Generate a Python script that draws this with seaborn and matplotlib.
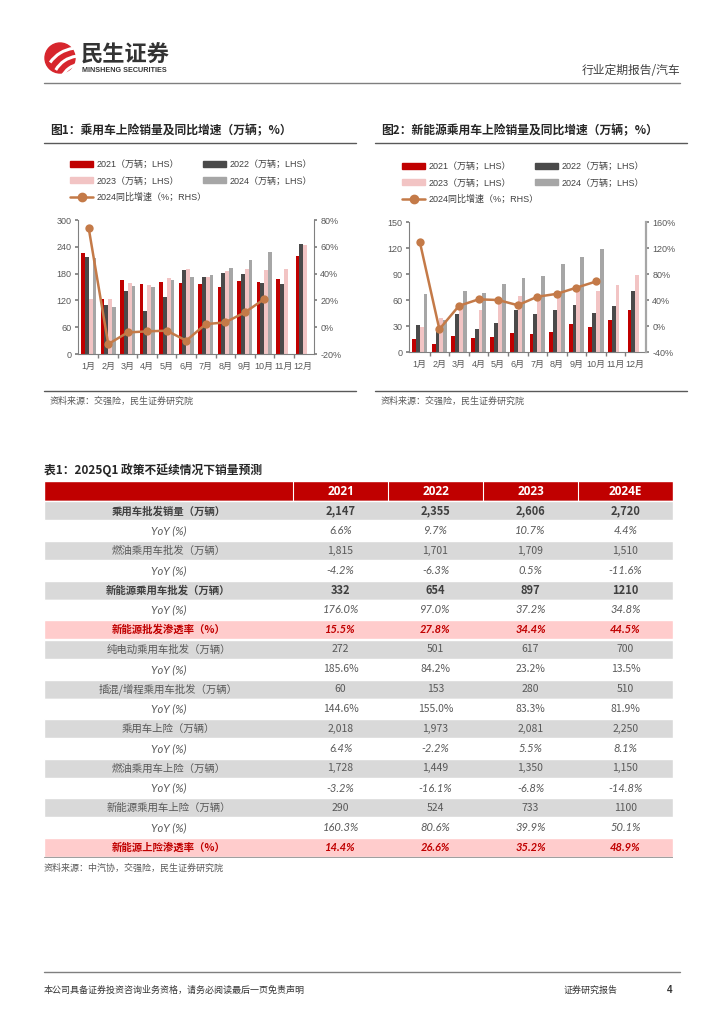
import numpy as np
import pandas as pd
import matplotlib
matplotlib.use('Agg')
import matplotlib.pyplot as plt
import seaborn as sns
from matplotlib.patches import Circle, Arc, Patch
from matplotlib.lines import Line2D
from matplotlib.ticker import FuncFormatter

sns.set_theme(style='white')
plt.rcParams['font.family'] = ['Liberation Sans', 'Noto Sans CJK SC', 'DejaVu Sans']
plt.rcParams['axes.unicode_minus'] = False

# ---------------- data ----------------
months = ['1月', '2月', '3月', '4月', '5月', '6月', '7月', '8月', '9月', '10月', '11月', '12月']
years = ['2021', '2022', '2023', '2024']

ins_2021 = [227, 124, 166, 156, 162, 160, 156, 151, 164, 162, 169, 219]
ins_2022 = [218, 110, 141, 96, 127, 187, 172, 181, 179, 159, 156, 246]
ins_2023 = [124, 123, 159, 155, 171, 191, 173, 186, 191, 188, 191, 245]
ins_2024 = [214, 106, 153, 150, 166, 172, 176, 193, 211, 229]
ins_yoy_2024 = [73.8, -12.6, -3.9, -3.1, -2.6, -10.0, 2.3, 3.6, 11.0, 21.0]

nev_2021 = [14.7, 9.6, 18.5, 16.6, 17.4, 22, 21, 22.8, 32.8, 29, 37, 48]
nev_2022 = [31, 24, 44, 26, 33, 49, 44, 48, 54, 44.7, 53, 70.6]
nev_2023 = [28.5, 39, 53, 48.6, 56, 65, 61, 67, 70, 70.6, 77.5, 88.7]
nev_2024 = [66.7, 37, 70, 68, 78, 85.6, 88, 101, 110, 119]
nev_yoy_2024 = [129.7, -5, 31, 41, 40, 32, 45, 49.5, 59, 68.5]

legend_labels = ['2021（万辆；LHS）', '2022（万辆；LHS）', '2023（万辆；LHS）',
                 '2024（万辆；LHS）', '2024同比增速（%；RHS）']

tbl_cols = ['2021', '2022', '2023', '2024E']
row_labels = ['乘用车批发销量（万辆）', 'YoY (%)', '燃油乘用车批发（万辆）', 'YoY (%)',
              '新能源乘用车批发（万辆）', 'YoY (%)', '新能源批发渗透率（%）',
              '纯电动乘用车批发（万辆）', 'YoY (%)', '插混/增程乘用车批发（万辆）', 'YoY (%)',
              '乘用车上险（万辆）', 'YoY (%)', '燃油乘用车上险（万辆）', 'YoY (%)',
              '新能源乘用车上险（万辆）', 'YoY (%)', '新能源上险渗透率（%）']
col_2021 = ['2,147', '6.6%', '1,815', '-4.2%', '332', '176.0%', '15.5%', '272', '185.6%',
            '60', '144.6%', '2,018', '6.4%', '1,728', '-3.2%', '290', '160.3%', '14.4%']
col_2022 = ['2,355', '9.7%', '1,701', '-6.3%', '654', '97.0%', '27.8%', '501', '84.2%',
            '153', '155.0%', '1,973', '-2.2%', '1,449', '-16.1%', '524', '80.6%', '26.6%']
col_2023 = ['2,606', '10.7%', '1,709', '0.5%', '897', '37.2%', '34.4%', '617', '23.2%',
            '280', '83.3%', '2,081', '5.5%', '1,350', '-6.8%', '733', '39.9%', '35.2%']
col_2024E = ['2,720', '4.4%', '1,510', '-11.6%', '1210', '34.8%', '44.5%', '700', '13.5%',
             '510', '81.9%', '2,250', '8.1%', '1,150', '-14.8%', '1100', '50.1%', '48.9%']
row_kind = ['bold', 'yoy', 'plain', 'yoy', 'bold', 'yoy', 'pen', 'plain', 'yoyu', 'plain',
            'yoyu', 'plain', 'yoy', 'plain', 'yoy', 'plain', 'yoy', 'pen']

# ---------------- styles ----------------
BAR_COLORS = ['#c00000', '#4a4a4a', '#f2c4c4', '#a6a6a6']
LINE_COLOR = '#c47a48'
TXT = '#404040'
CJK = ['Noto Sans CJK SC', 'DejaVu Sans']

W, H = 724, 1024
fig = plt.figure(figsize=(7.24, 10.24), dpi=100)


def rect(x0, y0, x1, y1):
    return [x0 / W, 1 - y1 / H, (x1 - x0) / W, (y1 - y0) / H]


ov = fig.add_axes([0, 0, 1, 1])
ov.set_xlim(0, W)
ov.set_ylim(H, 0)
ov.axis('off')

# header / logo
ov.add_patch(Circle((60, 58), 15, color='#d7262d'))
for (cx, cy, r, t1, t2) in [(78, 82, 34, 215, 262), (80, 84, 28, 210, 262), (82, 86, 22, 205, 262)]:
    ov.add_patch(Arc((cx, cy), 2 * r, 2 * r, theta1=t1, theta2=t2, color='white', lw=2.2))
ov.text(81, 55, '民生证券', fontsize=16, fontweight='bold', color='#333333', family=CJK,
        va='center', ha='left')
ov.text(82, 71, 'MINSHENG SECURITIES', fontsize=5.2, fontweight='bold', color='#333333',
        va='center', ha='left')
ov.text(680, 70, '行业定期报告/汽车', fontsize=8.5, color=TXT, family=CJK, va='center', ha='right')
ov.plot([44, 680], [83, 83], color='#7f7f7f', lw=1)

# figure titles & lines
ov.text(50, 131, '图1：乘用车上险销量及同比增速（万辆；%）', fontsize=8.5, fontweight='bold',
        color='#262626', family=CJK, va='center')
ov.text(381, 131, '图2：新能源乘用车上险销量及同比增速（万辆；%）', fontsize=8.5, fontweight='bold',
        color='#262626', family=CJK, va='center')
for xa, xb in [(44, 356), (375, 687)]:
    ov.plot([xa, xb], [143, 143], color='#595959', lw=1)
    ov.plot([xa, xb], [391, 391], color='#595959', lw=1)
ov.text(50, 401, '资料来源：交强险，民生证券研究院', fontsize=6.5, color='#595959', family=CJK, va='center')
ov.text(381, 401, '资料来源：交强险，民生证券研究院', fontsize=6.5, color='#595959', family=CJK, va='center')

# footer
ov.plot([44, 680], [972, 972], color='#7f7f7f', lw=1)
ov.text(44, 990, '本公司具备证券投资咨询业务资格，请务必阅读最后一页免责声明', fontsize=6.5,
        color='#333333', family=CJK, va='center')
ov.text(564, 990, '证券研究报告', fontsize=6.5, color='#333333', family=CJK, va='center')
ov.text(670, 990, '4', fontsize=7, fontweight='bold', color='#333333', va='center', ha='center')


def bar_chart(box, series, yoy, ylim, yticks, y2lim, y2ticks, leg1_xy, leg2_xy, rspine):
    ax = fig.add_axes(rect(*box))
    ax.set_facecolor('none')
    recs = []
    for yr, vals in zip(years, series):
        for m, v in zip(months, vals):
            recs.append({'month': m, 'year': yr, 'value': v})
    df = pd.DataFrame(recs)
    sns.barplot(data=df, x='month', y='value', hue='year', order=months, hue_order=years,
                palette=BAR_COLORS, width=0.78, saturation=1, errorbar=None, legend=False,
                linewidth=0, edgecolor='none', ax=ax)
    ax.set_ylim(*ylim)
    ax.set_yticks(yticks)
    ax.set_xlabel('')
    ax.set_ylabel('')
    ax.set_xticks(np.arange(12))
    ax.set_xticklabels(months)
    ax.set_xticks(np.arange(0.5, 11.5, 1), minor=True)
    ax.tick_params(axis='x', which='major', length=0, pad=6, labelsize=6.5, labelcolor='#595959')
    ax.tick_params(axis='x', which='minor', length=3, color='#808080', direction='out', bottom=True)
    ax.tick_params(axis='y', length=2.5, color='#808080', direction='out', left=True, pad=2,
                   labelsize=6.5, labelcolor='#595959')
    for s in ['top', 'right']:
        ax.spines[s].set_visible(False)
    for s in ['left', 'bottom']:
        ax.spines[s].set_color('#808080')
        ax.spines[s].set_linewidth(0.8)
    ax.grid(False)

    ax2 = ax.twinx()
    ax2.set_facecolor('none')
    sns.lineplot(x=np.arange(len(yoy)), y=yoy, ax=ax2, color=LINE_COLOR, marker='o',
                 markersize=6, markeredgewidth=0, linewidth=1.8)
    ax2.set_ylim(*y2lim)
    ax2.set_yticks(y2ticks)
    ax2.yaxis.set_major_formatter(FuncFormatter(lambda v, p: f'{v:.0f}%'))
    ax2.tick_params(axis='y', length=2.5, color='#808080', direction='out', right=True, pad=2,
                    labelsize=6.5, labelcolor='#595959')
    for s in ['top', 'left', 'bottom']:
        ax2.spines[s].set_visible(False)
    ax2.spines['right'].set_color(rspine[0])
    ax2.spines['right'].set_linewidth(rspine[1])
    ax2.set_ylabel('')
    ax2.grid(False)
    ax.set_xlim(-0.55, 11.55)

    bars = [Patch(color=c) for c in BAR_COLORS]
    hl = Line2D([], [], color=LINE_COLOR, marker='o', markersize=6, lw=1.8)
    common = dict(loc='upper left', bbox_transform=fig.transFigure, frameon=False, fontsize=6.5,
                  handlelength=2.6, handleheight=0.55, labelspacing=0.82, handletextpad=0.35,
                  borderpad=0, borderaxespad=0, labelcolor=TXT)
    l1 = ax.legend([bars[0], bars[2], hl], [legend_labels[0], legend_labels[2], legend_labels[4]],
                   bbox_to_anchor=(leg1_xy[0] / W, 1 - leg1_xy[1] / H), **common)
    ax.add_artist(l1)
    ax.legend([bars[1], bars[3]], [legend_labels[1], legend_labels[3]],
              bbox_to_anchor=(leg2_xy[0] / W, 1 - leg2_xy[1] / H), **common)


bar_chart((78, 220, 314, 354), [ins_2021, ins_2022, ins_2023, ins_2024], ins_yoy_2024,
          (0, 300), range(0, 301, 60), (-20, 80), range(-20, 81, 20),
          (70, 160), (203, 160), ('#808080', 0.8))
bar_chart((409, 222, 646, 352), [nev_2021, nev_2022, nev_2023, nev_2024], nev_yoy_2024,
          (0, 150), range(0, 151, 30), (-40, 160), range(-40, 161, 40),
          (402, 162), (535, 162), ('#a6a6a6', 1.6))

# ---------------- table ----------------
ov.text(44, 470, '表1：2025Q1 政策不延续情况下销量预测', fontsize=8.5, fontweight='bold',
        color='#262626', family=CJK, va='center')
X0, X1 = 44, 673
col_edges = [44, 293, 388, 483, 578, 673]
HDR0, HDR1 = 481, 501
RH = 19.8
tax = fig.add_axes(rect(X0, HDR0, X1, HDR1 + RH * len(row_labels) + 1))
tax.set_xlim(X0, X1)
tax.set_ylim(HDR1 + RH * len(row_labels) + 1, HDR0)
tax.axis('off')

bg = {'bold': '#d9d9d9', 'plain': '#d9d9d9', 'yoy': 'white', 'yoyu': 'white', 'pen': '#ffcccc'}
centers = [HDR1 + RH * (i + 0.5) for i in range(len(row_labels))]
tax.barh([(HDR0 + HDR1) / 2], [X1 - X0], left=X0, height=HDR1 - HDR0, color='#c00000')
tax.barh(centers, [X1 - X0] * len(centers), left=X0, height=RH - 0.8,
         color=[bg[k] for k in row_kind])
tax.vlines(col_edges[1:-1], HDR0, HDR1, color='white', lw=0.8)
tax.plot([X0, X1], [HDR1 + RH * len(row_labels), HDR1 + RH * len(row_labels)], color='#a0a0a0', lw=0.8)

col_centers = [(col_edges[i] + col_edges[i + 1]) / 2 for i in range(5)]
for j, c in enumerate(tbl_cols):
    tax.text(col_centers[j + 1], (HDR0 + HDR1) / 2 + 0.5, c, fontsize=8.5, fontweight='bold',
             color='white', family=['Open Sans'] + CJK, ha='center', va='center')

cols = [col_2021, col_2022, col_2023, col_2024E]
LAT = ['Lato', 'DejaVu Sans']
for i, (lab, kind) in enumerate(zip(row_labels, row_kind)):
    y = centers[i]
    fs, lfs = 7.5, 7.5
    if kind == 'bold':
        lk = dict(family=CJK, fontweight='bold', color='#404040')
        vk = dict(family=CJK, fontweight='bold', color='#404040')
        fs = 8
    elif kind == 'plain':
        lk = dict(family=CJK, color='#595959')
        vk = dict(family=CJK, color='#595959')
    elif kind == 'yoy':
        lk = dict(family=LAT, style='italic', color='#595959')
        vk = dict(family=LAT, style='italic', color='#595959')
        fs, lfs = 8, 8
    elif kind == 'yoyu':
        lk = dict(family=LAT, style='italic', color='#595959')
        vk = dict(family=CJK, color='#595959')
        lfs = 8
    else:
        lk = dict(family=CJK, fontweight='bold', style='italic', color='#c00000')
        vk = dict(family=LAT, fontweight='bold', style='italic', color='#c00000')
        fs = 8
    tax.text(col_centers[0], y, lab, fontsize=lfs, ha='center', va='center', **lk)
    for j in range(4):
        tax.text(col_centers[j + 1], y, cols[j][i], fontsize=fs, ha='center', va='center', **vk)

ov.text(44, 868, '资料来源：中汽协，交强险，民生证券研究院', fontsize=6.5, color='#595959',
        family=CJK, va='center')

fig.savefig('out.png', dpi=100)
